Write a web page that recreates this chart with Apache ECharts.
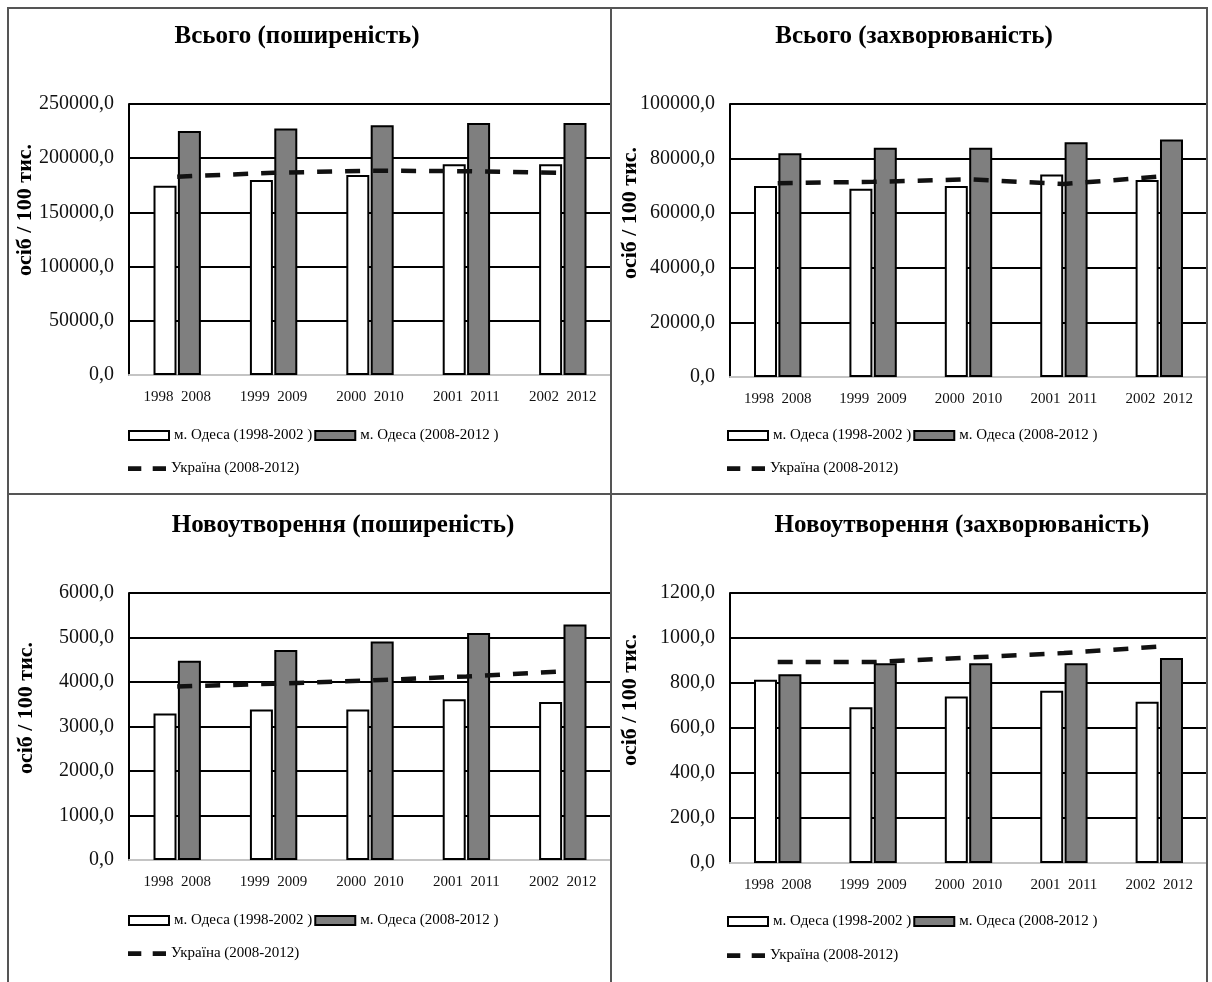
<!DOCTYPE html>
<html>
<head>
<meta charset="utf-8">
<script src="https://cdn.jsdelivr.net/npm/echarts@6/dist/echarts.min.js"></script>
<style>
  html, body { margin: 0; padding: 0; background: #fff; }
  #chart { width: 1212px; height: 982px; }
</style>
</head>
<body>
<div id="chart"></div>
<script>
// Years shown under each pair of bars
const yearsOld = ['1998', '1999', '2000', '2001', '2002'];
const yearsNew = ['2008', '2009', '2010', '2011', '2012'];

// Series names
const nameOld = 'м. Одеса (1998-2002 )';
const nameNew = 'м. Одеса (2008-2012 )';
const nameUa = 'Україна (2008-2012)';

// Всього (поширеність)
const totalPrevOld = [174500, 180000, 184500, 194500, 194500];
const totalPrevNew = [225000, 227500, 230500, 232500, 232500];
const totalPrevUa  = [183000, 186500, 188500, 188000, 186500];

// Всього (захворюваність)
const totalIncOld = [70000, 69000, 70000, 74200, 72200];
const totalIncNew = [82000, 84000, 84000, 86000, 87000];
const totalIncUa  = [71000, 71500, 72400, 70700, 73400];

// Новоутворення (поширеність)
const neoPrevOld = [3290, 3380, 3380, 3610, 3550];
const neoPrevNew = [4480, 4720, 4910, 5100, 5290];
const neoPrevUa  = [3900, 3960, 4035, 4125, 4240];

// Новоутворення (захворюваність)
const neoIncOld = [814, 692, 740, 766, 717];
const neoIncNew = [839, 888, 888, 888, 911];
const neoIncUa  = [893, 893, 913, 933, 962];

// Axis ranges
const axisMax  = [250000, 100000, 6000, 1200];
const axisStep = [50000, 20000, 1000, 200];

const titles = [
  'Всього (поширеність)',
  'Всього (захворюваність)',
  'Новоутворення (поширеність)',
  'Новоутворення (захворюваність)'
];
const yName = 'осіб / 100 тис.';

const W = 1212, H = 982;
const serif = '"Liberation Serif", "Times New Roman", serif';

// Panel layout
const layout = [
  { l: 129, r: 611,  t: 104, b: 375, titleX: 297, titleY: 38,  nameX: 25,  nameY: 210, legX: 128, leg1: 437, leg2: 470 },
  { l: 730, r: 1207, t: 104, b: 377, titleX: 914, titleY: 38,  nameX: 630, nameY: 213, legX: 727, leg1: 437, leg2: 470 },
  { l: 129, r: 611,  t: 593, b: 860, titleX: 343, titleY: 527, nameX: 26,  nameY: 708, legX: 128, leg1: 922, leg2: 955 },
  { l: 730, r: 1207, t: 593, b: 863, titleX: 962, titleY: 527, nameX: 630, nameY: 700, legX: 727, leg1: 923, leg2: 957 }
];

const dataSets = [
  [totalPrevOld, totalPrevNew, totalPrevUa],
  [totalIncOld, totalIncNew, totalIncUa],
  [neoPrevOld, neoPrevNew, neoPrevUa],
  [neoIncOld, neoIncNew, neoIncUa]
];

const categories = yearsOld.map((y, i) => y + '  ' + yearsNew[i]);

// Two thick dashes for the national-average legend entry
const dashIcon = 'path://M0 0H14V5H0Z M26 0H40V5H26Z';

const option = {
  backgroundColor: '#fff',
  animation: false,
  title: [], grid: [], xAxis: [], yAxis: [], series: [], legend: [], graphic: []
};

layout.forEach((p, i) => {
  const [old, nw, ua] = dataSets[i];
  option.title.push({
    text: titles[i],
    left: p.titleX - 5,
    top: p.titleY - 19,
    textAlign: 'center',
    textStyle: { fontFamily: serif, fontWeight: 'bold', fontSize: 25, color: '#000' }
  });
  option.grid.push({ left: p.l, top: p.t, width: p.r - p.l, height: p.b - p.t, containLabel: false });
  option.xAxis.push({
    type: 'category',
    gridIndex: i,
    data: categories,
    axisLine: { show: true, lineStyle: { color: '#c4c4c4', width: 2 } },
    axisTick: { show: false },
    axisLabel: { interval: 0, margin: 15, fontFamily: serif, fontSize: 15, color: '#111' }
  });
  option.yAxis.push({
    type: 'value',
    gridIndex: i,
    min: 0,
    max: axisMax[i],
    interval: axisStep[i],
    axisLine: { show: true, lineStyle: { color: '#000', width: 2 } },
    axisTick: { show: false },
    axisLabel: {
      margin: 15, fontFamily: serif, fontSize: 20, color: '#111',
      formatter: v => v.toFixed(1).replace('.', ',')
    },
    splitLine: { show: true, showMinLine: false, lineStyle: { color: '#000', width: 2 } }
  });
  option.series.push({
    type: 'bar', name: nameOld, xAxisIndex: i, yAxisIndex: i, data: old,
    barWidth: 23, barGap: '6%',
    itemStyle: { color: '#fff', borderColor: '#000', borderWidth: 2 }
  });
  option.series.push({
    type: 'bar', name: nameNew, xAxisIndex: i, yAxisIndex: i, data: nw,
    barWidth: 23, barGap: '6%',
    itemStyle: { color: '#7f7f7f', borderColor: '#000', borderWidth: 2 }
  });
  option.series.push({
    type: 'line', name: nameUa, xAxisIndex: i, yAxisIndex: i, data: ua,
    symbol: 'none', z: 5,
    lineStyle: { color: '#111', width: 4.5, type: [15, 13] },
    itemStyle: { color: '#111' }
  });
  const legendText = { fontFamily: serif, fontSize: 15, color: '#000' };
  option.legend.push({
    data: [nameOld, nameNew],
    left: p.legX, top: p.leg1 - 9, padding: 0,
    orient: 'horizontal', itemGap: 2, itemWidth: 40, itemHeight: 9,
    icon: 'rect', selectedMode: false, textStyle: legendText
  });
  option.legend.push({
    data: [{ name: nameUa, icon: dashIcon }],
    left: p.legX, top: p.leg2 - 9, padding: 0,
    itemWidth: 38, itemHeight: 5, selectedMode: false,
    itemStyle: { color: '#111', borderWidth: 0 },
    textStyle: legendText
  });
  option.graphic.push({
    type: 'text',
    x: p.nameX, y: p.nameY,
    rotation: Math.PI / 2,
    style: {
      text: yName, fontFamily: serif, fontWeight: 'bold', fontSize: 22,
      fill: '#000', textAlign: 'center', textVerticalAlign: 'middle'
    }
  });
});

// Panel frames
option.graphic.push(
  { type: 'rect', shape: { x: 8, y: 8, width: 1199, height: 990 }, style: { fill: 'none', stroke: '#555', lineWidth: 2 }, z: 10 },
  { type: 'line', shape: { x1: 611, y1: 8, x2: 611, y2: H }, style: { stroke: '#555', lineWidth: 2 }, z: 10 },
  { type: 'line', shape: { x1: 8, y1: 494, x2: 1207, y2: 494 }, style: { stroke: '#555', lineWidth: 2 }, z: 10 }
);

const chart = echarts.init(document.getElementById('chart'), null, { renderer: 'canvas' });
chart.setOption(option);
</script>
</body>
</html>
